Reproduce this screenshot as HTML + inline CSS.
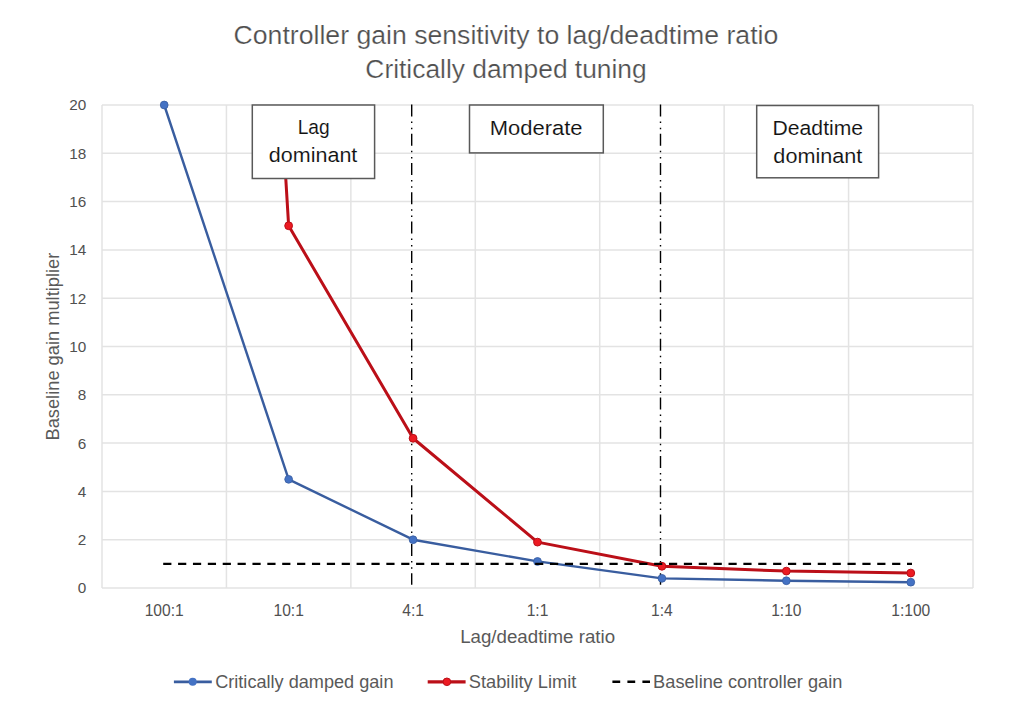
<!DOCTYPE html><html><head><meta charset="utf-8"><style>html,body{margin:0;padding:0;background:#fff;width:1024px;height:704px;overflow:hidden}svg{display:block}text{font-family:"Liberation Sans",sans-serif}.th{stroke:#fff;stroke-width:0.22px}.tb{stroke:#fff;stroke-width:0.1px}</style></head><body>
<svg width="1024" height="704" viewBox="0 0 1024 704">
<rect width="1024" height="704" fill="#fff"/>
<defs><clipPath id="pc"><rect x="100.0" y="105.0" width="875.0" height="491.0"/></clipPath></defs>
<path d="M102.0 588.00H973.0M102.0 539.70H973.0M102.0 491.40H973.0M102.0 443.10H973.0M102.0 394.80H973.0M102.0 346.50H973.0M102.0 298.20H973.0M102.0 249.90H973.0M102.0 201.60H973.0M102.0 153.30H973.0M102.0 105.00H973.0M102.00 105.0V588.0M226.43 105.0V588.0M350.86 105.0V588.0M475.29 105.0V588.0M599.71 105.0V588.0M724.14 105.0V588.0M848.57 105.0V588.0M973.00 105.0V588.0" stroke="#e3e3e3" stroke-width="1.5" fill="none"/>
<text x="86.30" y="593.40" font-size="15.30" fill="#505050" text-anchor="end">0</text>
<text x="86.30" y="545.10" font-size="15.30" fill="#505050" text-anchor="end">2</text>
<text x="86.30" y="496.80" font-size="15.30" fill="#505050" text-anchor="end">4</text>
<text x="86.30" y="448.50" font-size="15.30" fill="#505050" text-anchor="end">6</text>
<text x="86.30" y="400.20" font-size="15.30" fill="#505050" text-anchor="end">8</text>
<text x="86.30" y="351.90" font-size="15.30" fill="#505050" text-anchor="end">10</text>
<text x="86.30" y="303.60" font-size="15.30" fill="#505050" text-anchor="end">12</text>
<text x="86.30" y="255.30" font-size="15.30" fill="#505050" text-anchor="end">14</text>
<text x="86.30" y="207.00" font-size="15.30" fill="#505050" text-anchor="end">16</text>
<text x="86.30" y="158.70" font-size="15.30" fill="#505050" text-anchor="end">18</text>
<text x="86.30" y="110.40" font-size="15.30" fill="#505050" text-anchor="end">20</text>
<text x="164.21" y="615.80" font-size="15.60" fill="#505050" text-anchor="middle">100:1</text>
<text x="288.64" y="615.80" font-size="15.60" fill="#505050" text-anchor="middle">10:1</text>
<text x="413.07" y="615.80" font-size="15.60" fill="#505050" text-anchor="middle">4:1</text>
<text x="537.50" y="615.80" font-size="15.60" fill="#505050" text-anchor="middle">1:1</text>
<text x="661.93" y="615.80" font-size="15.60" fill="#505050" text-anchor="middle">1:4</text>
<text x="786.36" y="615.80" font-size="15.60" fill="#505050" text-anchor="middle">1:10</text>
<text x="910.79" y="615.80" font-size="15.60" fill="#505050" text-anchor="middle">1:100</text>
<line x1="411.7" y1="104.4" x2="411.7" y2="584.8" stroke="#000" stroke-width="1.4" stroke-dasharray="12 5 1.5 4.8 1.5 4.5"/>
<line x1="660.5" y1="104.4" x2="660.5" y2="584.8" stroke="#000" stroke-width="1.4" stroke-dasharray="12 5 1.5 4.8 1.5 4.5"/>
<polyline points="164.21,105.00 288.64,479.32 413.07,539.70 537.50,561.43 661.93,578.34 786.36,580.75 910.79,582.20" fill="none" stroke="#395d9f" stroke-width="2.4" stroke-linejoin="round"/>
<circle cx="164.21" cy="105.00" r="3.9" fill="#4472c4" stroke="#395d9f" stroke-width="0.8"/>
<circle cx="288.64" cy="479.32" r="3.9" fill="#4472c4" stroke="#395d9f" stroke-width="0.8"/>
<circle cx="413.07" cy="539.70" r="3.9" fill="#4472c4" stroke="#395d9f" stroke-width="0.8"/>
<circle cx="537.50" cy="561.43" r="3.9" fill="#4472c4" stroke="#395d9f" stroke-width="0.8"/>
<circle cx="661.93" cy="578.34" r="3.9" fill="#4472c4" stroke="#395d9f" stroke-width="0.8"/>
<circle cx="786.36" cy="580.75" r="3.9" fill="#4472c4" stroke="#395d9f" stroke-width="0.8"/>
<circle cx="910.79" cy="582.20" r="3.9" fill="#4472c4" stroke="#395d9f" stroke-width="0.8"/>
<g clip-path="url(#pc)">
<polyline points="164.21,-1827.00 288.64,225.75 413.07,438.27 537.50,542.12 661.93,566.26 786.36,571.10 910.79,573.03" fill="none" stroke="#bb0f18" stroke-width="3.0" stroke-linejoin="round"/>
</g>
<circle cx="288.64" cy="225.75" r="3.9" fill="#ec1a22" stroke="#bb0f18" stroke-width="1"/>
<circle cx="413.07" cy="438.27" r="3.9" fill="#ec1a22" stroke="#bb0f18" stroke-width="1"/>
<circle cx="537.50" cy="542.12" r="3.9" fill="#ec1a22" stroke="#bb0f18" stroke-width="1"/>
<circle cx="661.93" cy="566.26" r="3.9" fill="#ec1a22" stroke="#bb0f18" stroke-width="1"/>
<circle cx="786.36" cy="571.10" r="3.9" fill="#ec1a22" stroke="#bb0f18" stroke-width="1"/>
<circle cx="910.79" cy="573.03" r="3.9" fill="#ec1a22" stroke="#bb0f18" stroke-width="1"/>
<line x1="163.2" y1="563.9" x2="912" y2="563.9" stroke="#000" stroke-width="2.4" stroke-dasharray="8.2 6.676"/>
<rect x="252.30" y="105.00" width="122.30" height="73.50" fill="#fff" stroke="#595959" stroke-width="1.5"/>
<text x="297.63" y="134.20" font-size="19.77" fill="#111111" text-anchor="start" textLength="32.01" lengthAdjust="spacingAndGlyphs" class="tb">Lag</text>
<text x="268.80" y="161.60" font-size="19.77" fill="#111111" text-anchor="start" textLength="88.56" lengthAdjust="spacingAndGlyphs" class="tb">dominant</text>
<rect x="469.50" y="105.00" width="133.80" height="47.90" fill="#fff" stroke="#595959" stroke-width="1.5"/>
<text x="489.70" y="134.50" font-size="19.77" fill="#111111" text-anchor="start" textLength="92.88" lengthAdjust="spacingAndGlyphs" class="tb">Moderate</text>
<rect x="756.70" y="105.50" width="121.90" height="72.30" fill="#fff" stroke="#595959" stroke-width="1.5"/>
<text x="772.56" y="135.10" font-size="19.77" fill="#111111" text-anchor="start" textLength="90.58" lengthAdjust="spacingAndGlyphs" class="tb">Deadtime</text>
<text x="773.39" y="162.60" font-size="19.77" fill="#111111" text-anchor="start" textLength="88.97" lengthAdjust="spacingAndGlyphs" class="tb">dominant</text>
<text x="233.55" y="43.70" font-size="25.87" fill="#4f4f4f" text-anchor="start" textLength="544.77" lengthAdjust="spacingAndGlyphs" class="th">Controller gain sensitivity to lag/deadtime ratio</text>
<text x="365.36" y="77.60" font-size="25.29" fill="#4f4f4f" text-anchor="start" textLength="281.34" lengthAdjust="spacingAndGlyphs" class="th">Critically damped tuning</text>
<text x="460.17" y="642.90" font-size="17.44" fill="#595959" text-anchor="start" textLength="154.92" lengthAdjust="spacingAndGlyphs">Lag/deadtime ratio</text>
<text x="-1.50" y="0" font-size="17.44" fill="#595959" transform="translate(59.0 439) rotate(-90)" textLength="187.80" lengthAdjust="spacingAndGlyphs">Baseline gain multiplier</text>
<line x1="173.9" y1="681.8" x2="211.8" y2="681.8" stroke="#395d9f" stroke-width="2.8"/>
<circle cx="192.7" cy="681.8" r="4" fill="#4472c4"/>
<text x="215.18" y="687.70" font-size="17.44" fill="#595959" text-anchor="start" textLength="178.30" lengthAdjust="spacingAndGlyphs">Critically damped gain</text>
<line x1="427.7" y1="681.8" x2="465.6" y2="681.8" stroke="#bb0f18" stroke-width="3.2"/>
<circle cx="446.9" cy="681.8" r="3.8" fill="#ec1a22" stroke="#bb0f18" stroke-width="1"/>
<text x="468.77" y="687.70" font-size="17.44" fill="#595959" text-anchor="start" textLength="107.56" lengthAdjust="spacingAndGlyphs">Stability Limit</text>
<line x1="612.4" y1="681.8" x2="650" y2="681.8" stroke="#000" stroke-width="2.4" stroke-dasharray="7.8 7.2"/>
<text x="653.11" y="687.70" font-size="17.44" fill="#595959" text-anchor="start" textLength="189.28" lengthAdjust="spacingAndGlyphs">Baseline controller gain</text>
</svg></body></html>
